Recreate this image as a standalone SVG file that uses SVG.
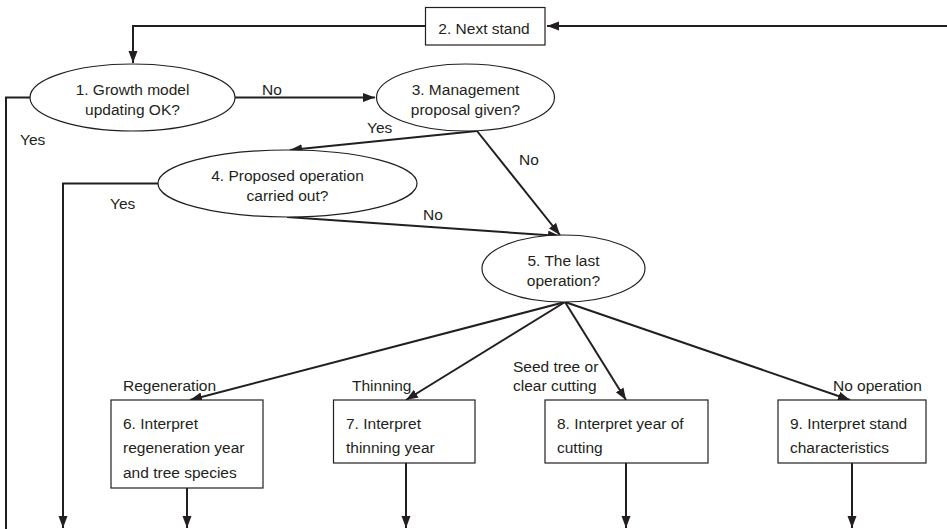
<svg xmlns="http://www.w3.org/2000/svg" width="947" height="529" viewBox="0 0 947 529">
<style>
text{font-family:"Liberation Sans",Arial,sans-serif;font-size:15.5px;fill:#231f20}
.n{fill:#fff;stroke:#231f20;stroke-width:1.2}
.c{fill:none;stroke:#231f20;stroke-width:2}
.m{text-anchor:middle}
</style>
<defs>
<marker id="a" markerUnits="userSpaceOnUse" markerWidth="13" markerHeight="10" refX="12" refY="4.5" orient="auto">
<path d="M0,0 L12,4.5 L0,9 z" fill="#231f20"/>
</marker>
</defs>
<rect width="947" height="529" fill="#fff"/>
<g id="connectors">
<path class="c" d="M425,26 H133 V63" marker-end="url(#a)"/>
<path class="c" d="M947,26 H547" marker-end="url(#a)"/>
<path class="c" d="M30,97.5 H6 V529"/>
<path class="c" d="M235,97.5 H375" marker-end="url(#a)"/>
<path class="c" d="M477,131 L290,150" marker-end="url(#a)"/>
<path class="c" d="M477,131 L560,235" marker-end="url(#a)"/>
<path class="c" d="M158,183.5 H63 V528" marker-end="url(#a)"/>
<path class="c" d="M287,217 L560,236" marker-end="url(#a)"/>
<path class="c" d="M565,302 L190,400" marker-end="url(#a)"/>
<path class="c" d="M565,302 L406,400" marker-end="url(#a)"/>
<path class="c" d="M565,302 L626,400" marker-end="url(#a)"/>
<path class="c" d="M565,302 L850,400" marker-end="url(#a)"/>
<path class="c" d="M187,488 V528" marker-end="url(#a)"/>
<path class="c" d="M406,463 V528" marker-end="url(#a)"/>
<path class="c" d="M626,463 V528" marker-end="url(#a)"/>
<path class="c" d="M852,463 V528" marker-end="url(#a)"/>
<text x="20" y="145">Yes</text>
<text x="262" y="95">No</text>
<text x="367" y="133">Yes</text>
<text x="519" y="165">No</text>
<text x="110" y="209">Yes</text>
<text x="423" y="220">No</text>
<text x="123" y="391">Regeneration</text>
<text x="352" y="391">Thinning</text>
<text x="513" y="372">Seed tree or</text>
<text x="513" y="391">clear cutting</text>
<text x="833" y="391">No operation</text>
</g>
<g id="n2">
<rect class="n" x="425.5" y="7.5" width="119.5" height="37.5"/>
<text class="m" x="484" y="34">2. Next stand</text>
</g>
<g id="n1">
<ellipse class="n" cx="132.5" cy="97.5" rx="102.5" ry="33.5"/>
<text class="m" x="132.5" y="95">1. Growth model</text>
<text class="m" x="132.5" y="115">updating OK?</text>
</g>
<g id="n3">
<ellipse class="n" cx="465.5" cy="97.5" rx="89" ry="33.5"/>
<text class="m" x="465.5" y="95">3. Management</text>
<text class="m" x="465.5" y="115">proposal given?</text>
</g>
<g id="n4">
<ellipse class="n" cx="287.5" cy="183.5" rx="129.5" ry="33.5"/>
<text class="m" x="287.5" y="181">4. Proposed operation</text>
<text class="m" x="287.5" y="201">carried out?</text>
</g>
<g id="n5">
<ellipse class="n" cx="563.5" cy="268.5" rx="81.5" ry="33.5"/>
<text class="m" x="563.5" y="266">5. The last</text>
<text class="m" x="563.5" y="286">operation?</text>
</g>
<g id="n6">
<rect class="n" x="111" y="400" width="152" height="88"/>
<text x="123" y="429">6. Interpret</text>
<text x="123" y="453">regeneration year</text>
<text x="123" y="478">and tree species</text>
</g>
<g id="n7">
<rect class="n" x="333.5" y="400" width="141.5" height="63"/>
<text x="346" y="429">7. Interpret</text>
<text x="346" y="453">thinning year</text>
</g>
<g id="n8">
<rect class="n" x="545" y="400" width="163" height="63"/>
<text x="557" y="429">8. Interpret year of</text>
<text x="557" y="453">cutting</text>
</g>
<g id="n9">
<rect class="n" x="778" y="400" width="148" height="63"/>
<text x="790" y="429">9. Interpret stand</text>
<text x="790" y="453">characteristics</text>
</g>
</svg>
